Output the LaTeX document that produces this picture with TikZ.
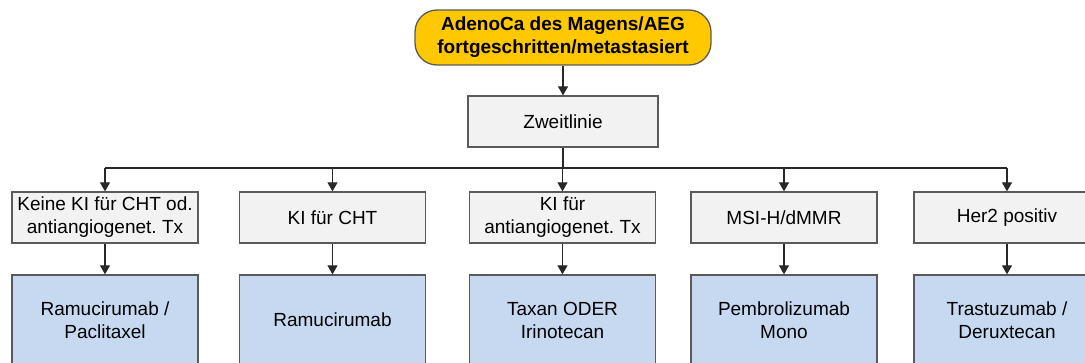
\documentclass[tikz,border=0pt]{standalone}
\usepackage{fontspec}
\setmainfont{Liberation Sans}
\usetikzlibrary{arrows.meta}
\frenchspacing
\definecolor{startfill}{RGB}{255,200,0}
\definecolor{condfill}{RGB}{242,242,242}
\definecolor{therapyfill}{RGB}{198,217,240}
\definecolor{edgegrey}{RGB}{90,90,90}
\definecolor{linegrey}{RGB}{40,40,40}
\tikzset{
  basetext/.style={font=\fontsize{19}{23}\selectfont, align=center, inner sep=0pt},
  startbox/.style={basetext, font=\bfseries\fontsize{19}{23}\selectfont, draw=edgegrey, line width=1.3pt,
    fill=startfill, rounded corners=22pt, minimum width=296pt, minimum height=55pt},
  stagebox/.style={basetext, draw=edgegrey, line width=1.3pt, fill=condfill,
    minimum width=190pt, minimum height=51pt},
  condbox/.style={basetext, draw=edgegrey, line width=1.3pt, fill=condfill,
    minimum width=186pt, minimum height=51pt},
  therapybox/.style={basetext, draw=edgegrey, line width=1.3pt, fill=therapyfill,
    minimum width=186pt, minimum height=90pt},
  conn/.style={draw=linegrey, line width=1.2pt},
  arr/.style={conn, -{Triangle[length=9pt,width=10pt]}}
}
\begin{document}
\begin{tikzpicture}[x=1pt,y=-1pt]
  \useasboundingbox (0,0) rectangle (1085,363);
  \clip (0,0) rectangle (1085,363);

  % top entry
  \node[startbox] (start) at (563,37.5) {AdenoCa des Magens/AEG\\fortgeschritten/metastasiert};
  \node[stagebox] (zweit) at (563,121.5) {Zweitlinie};

  % conditions
  \node[condbox] (c1) at (105,217.5) {Keine KI für CHT od.\\antiangiogenet. Tx};
  \node[condbox] (c2) at (332.5,217.5) {KI für CHT};
  \node[condbox] (c3) at (562.5,217.5) {KI für\\antiangiogenet. Tx};
  \node[condbox] (c4) at (784,217.5) {MSI-H/dMMR};
  \node[condbox] (c5) at (1007,217.5) {Her2 positiv};

  % therapies
  \node[therapybox] (t1) at (105,320) {Ramucirumab /\\Paclitaxel};
  \node[therapybox] (t2) at (332.5,320) {Ramucirumab};
  \node[therapybox] (t3) at (562.5,320) {Taxan ODER\\Irinotecan};
  \node[therapybox] (t4) at (784,320) {Pembrolizumab\\Mono};
  \node[therapybox] (t5) at (1007,320) {Trastuzumab /\\Deruxtecan};

  % connectors
  \coordinate (bus) at (0,168);
  \draw[arr] (start) -- (zweit);
  \draw[conn] (zweit.south) -- (zweit.south |- bus);
  \draw[conn] (c1.north |- bus) -- (c5.north |- bus);
  \foreach \i in {1,...,5} {
    \draw[arr] (c\i.north |- bus) -- (c\i.north);
    \draw[arr] (c\i) -- (t\i);
  }
\end{tikzpicture}
\end{document}
